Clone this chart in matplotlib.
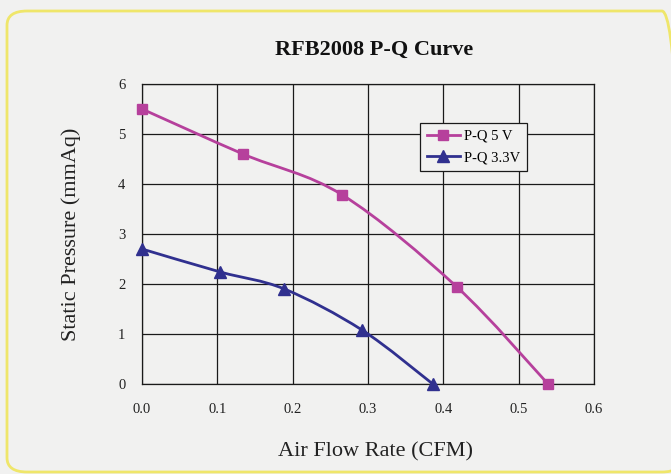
import matplotlib.pyplot as plt
from matplotlib.path import Path
from matplotlib.patches import PathPatch, FancyBboxPatch
from matplotlib.lines import Line2D
import numpy as np

# Data
flow_5v = [0.0, 0.134, 0.266, 0.418, 0.539]
pres_5v = [5.5, 4.6, 3.78, 1.94, 0.0]
flow_33v = [0.0, 0.104, 0.189, 0.292, 0.386]
pres_33v = [2.7, 2.24, 1.9, 1.08, 0.0]

x_ticks = [0.0, 0.1, 0.2, 0.3, 0.4, 0.5, 0.6]
y_ticks = [0, 1, 2, 3, 4, 5, 6]

C_5V = '#b6409c'
C_33V = '#30308f'
BG = '#f1f1f0'

plt.rcParams['font.family'] = ['Liberation Serif', 'DejaVu Serif']


def smooth_path(xs, ys):
    # Excel-like smoothed line: cubic bezier segments through the points
    pts = np.column_stack([xs, ys]).astype(float)
    n = len(pts)
    verts = [pts[0]]
    codes = [Path.MOVETO]
    for i in range(n - 1):
        p0 = pts[max(i - 1, 0)]
        p1 = pts[i]
        p2 = pts[i + 1]
        p3 = pts[min(i + 2, n - 1)]
        c1 = p1 + (p2 - p0) / 6.0
        c2 = p2 - (p3 - p1) / 6.0
        verts += [c1, c2, p2]
        codes += [Path.CURVE4] * 3
    return Path(verts, codes)


fig = plt.figure(figsize=(6.71, 4.74), dpi=100)
fig.patch.set_facecolor(BG)

border = FancyBboxPatch((7 / 671, 2 / 474), 675 / 671, 461 / 474,
                        boxstyle='round,pad=0,rounding_size=0.03',
                        transform=fig.transFigure, fill=False,
                        edgecolor='#efe66a', linewidth=2)
fig.patches.append(border)

ax = fig.add_axes([142 / 671, 1 - 384 / 474, 452 / 671, 300 / 474])
ax.set_facecolor(BG)
ax.set_xlim(0, 0.6)
ax.set_ylim(0, 6)
ax.set_xticks(x_ticks)
ax.set_yticks(y_ticks)
ax.set_xticklabels(['%.1f' % v for v in x_ticks])
ax.set_yticklabels([str(v) for v in y_ticks])
ax.tick_params(length=0, labelsize=10.5, colors='#222222')
ax.tick_params(axis='x', pad=14)
ax.tick_params(axis='y', pad=12)
ax.grid(True, color='#1a1a1a', linewidth=0.9)
ax.set_axisbelow(True)
for s in ax.spines.values():
    s.set_color('#1a1a1a')
    s.set_linewidth(0.9)

for xs, ys, col, mk, ms in [(flow_5v, pres_5v, C_5V, 's', 7),
                            (flow_33v, pres_33v, C_33V, '^', 8)]:
    ax.add_patch(PathPatch(smooth_path(xs, ys), fill=False, edgecolor=col,
                           linewidth=2, clip_on=False, zorder=3))
    ax.plot(xs, ys, linestyle='none', marker=mk, color=col, markersize=ms,
            clip_on=False, zorder=4)

handles = [Line2D([], [], color=C_5V, lw=2, marker='s', markersize=7),
           Line2D([], [], color=C_33V, lw=2, marker='^', markersize=8)]
leg = ax.legend(handles, ['P-Q 5 V', 'P-Q 3.3V'], loc='upper left',
                bbox_to_anchor=(0.615, 0.87), borderaxespad=0, fontsize=10.5,
                fancybox=False, framealpha=1, facecolor=BG,
                edgecolor='#1a1a1a', handlelength=2.3, handletextpad=0.3,
                borderpad=0.45, labelspacing=0.55)
leg.get_frame().set_linewidth(0.9)

fig.text(374 / 671, 1 - 50 / 474, 'RFB2008 P-Q Curve', ha='center',
         va='center', fontsize=16, fontweight='bold', color='#111111')
fig.text(71 / 671, 1 - 234 / 474, 'Static Pressure (mmAq)', ha='center',
         va='center', rotation=90, fontsize=16, color='#222222')
fig.text(376 / 671, 1 - 452 / 474, 'Air Flow Rate (CFM)', ha='center',
         va='center', fontsize=16, color='#222222')

fig.savefig('out.png', dpi=100, facecolor=BG)
